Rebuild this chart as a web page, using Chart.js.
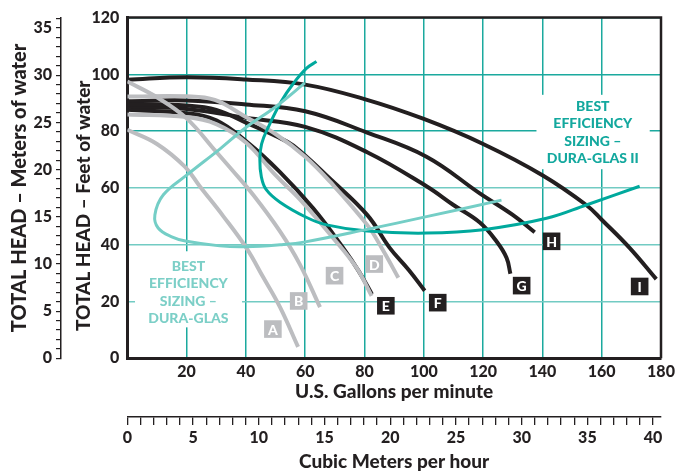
<!DOCTYPE html>
<html><head><meta charset="utf-8">
<script src="https://cdn.jsdelivr.net/npm/chart.js@4.4.1/dist/chart.umd.min.js"></script>
<style>html,body{margin:0;padding:0;background:#fff;}#wrap{width:686px;height:471px;}</style>
</head><body><div id="wrap"><canvas id="c" width="686" height="471"></canvas></div>
<script>
// ---- data: [U.S. gallons per minute, feet of head] ----
const curveA = [[0,80.5],[10,75.5],[19.4,67.5],[24.5,60.5],[32.4,50],[40.2,38.8],[45.8,28.6],[51.5,18],[57.6,4]];
const curveB = [[0,97.5],[10.4,91.7],[20,84.5],[30.1,72.6],[35.2,66.5],[42.5,57.5],[51.5,44.7],[58.2,33.1],[65,18]];
const curveC = [[0,85.9],[20,85],[30,82.5],[40,76],[50,64.5],[58.2,56],[69.4,42.4],[77.3,31.9],[82.4,22]];
const curveD = [[0,92.2],[20,92.3],[29.5,91],[40,85],[50,79],[60,71],[68.3,62.3],[80.9,47],[86,38.5],[91.4,28.4]];
const curveE = [[0,87.5],[20,86.3],[30,83.8],[40,76.5],[51.5,65.6],[62.7,52.8],[72.8,38.9],[78,30.8],[82.5,22.6]];
const curveF = [[0,89.6],[20,89],[30,87.5],[40,83],[50,78.3],[56,74.9],[68.3,63.3],[80.9,50.5],[88.5,38.9],[95,31],[100.3,23.8]];
const curveG = [[0,88.6],[20,87.8],[40,84.7],[60,81.5],[80.9,72.6],[100.9,60.6],[110,54],[118.9,47.8],[124.5,41.2],[127.9,35.4],[129.2,29.8]];
const curveH = [[0,90.5],[20,90.8],[40,89.4],[60,87],[80.9,79.5],[100.9,71],[119,58],[130,50.5],[137.4,44.4]];
const curveI = [[0,98.1],[20,99],[40,98.2],[60,96.4],[80,91.3],[100,84.3],[120,75.5],[140,64.5],[154.8,54],[160,48.8],[169.4,38.9],[178.4,27.9]];
const duraGlasII = [[63.8,104.5],[60.5,102.2],[56,96.8],[52,90.6],[47.5,81.3],[45.3,75.5],[44.7,70],[45.2,64],[46.8,59.5],[51.5,55],[60.5,49.6],[67.2,47],[80.9,44.8],[100.9,44.1],[120,45.3],[141.4,49.3],[154.8,54],[172.8,60.6]];
const duraGlas = [[59.9,97],[50.3,88.8],[40,81.3],[31.2,73.7],[20,64.5],[12.1,57.5],[9.3,50.5],[10.4,45.9],[15,42.8],[20,41.2],[31.2,39.6],[40,39.3],[51.5,40],[60,41],[80.9,45.4],[100.9,49.9],[126.2,55.7]];

// letter tags: [letter, gpm, ft]
const grayTags = [['A',49.1,10.3],['B',57.8,20.2],['C',69.9,29.1],['D',83.3,33.2]];
const blackTags = [['E',87.2,18.5],['F',104.7,19.6],['G',133,25.6],['H',143.1,41.2],['I',172.8,25.3]];

// text blocks
const duraGlasText = ['BEST','EFFICIENCY','SIZING –','DURA-GLAS'];
const duraGlasIIText = ['BEST','EFFICIENCY','SIZING –','DURA-GLAS II'];
// [centre gpm, first-line ft, box gpm0, box gpm1, box ft top, box ft bottom]
const duraGlasBox = [20.6, 32.5, 2.6, 38.7, 37.7, 10.9];
const duraGlasIIBox = [157, 88.8, 138, 176.2, 92.8, 66.6];

const gpmTicks = {min:0, max:180, step:20};
const ftTicks = {min:0, max:120, step:20};
const meterTicks = {min:0, max:36.1, last:36, labelEvery:5};
const cubicTicks = {min:0, max:40.6, last:40, labelEvery:5};

const FAM = 'Lato, "Open Sans", "DejaVu Sans", sans-serif';
const BLACK = '#231f20', GRAY = '#bcbdc0', TEAL = '#00a99d', LTEAL = '#74cec6';
const GRID_D = '#1ba99e', GRID_L = '#72cbc3';

function toXY(arr){ return arr.map(p => ({x:p[0], y:p[1]})); }
function ds(arr, color, w){ return {data:toXY(arr), showLine:true, borderColor:color, borderWidth:w, pointRadius:0, tension:0.4, fill:false, borderCapStyle:'butt'}; }
function unitTicks(last){ const t = []; for (let i = 0; i <= last; i++) t.push({value:i}); return t; }

// feet title sits a little below the axis middle in the original: pad its end with no-break spaces
const feetTitleFont = {family:FAM, size:19, weight:'900', lineHeight:1};
const meterTitleFont = {family:FAM, size:20, weight:'900', lineHeight:1};
function padEnd(text, font, px){
  const m = document.createElement('canvas').getContext('2d');
  m.font = font.weight + ' ' + font.size + 'px ' + font.family;
  const w = m.measureText('\u00a0').width || 5;
  return text + '\u00a0'.repeat(Math.max(0, Math.round(px / w)));
}
const feetTitle = padEnd('TOTAL HEAD – Feet of water', feetTitleFont, 38);

const datasets = [
  ds(duraGlas, LTEAL, 3),
  ds(duraGlasII, TEAL, 3),
  ds(curveA, GRAY, 4), ds(curveB, GRAY, 4), ds(curveC, GRAY, 4), ds(curveD, GRAY, 4),
  ds(curveE, BLACK, 4), ds(curveF, BLACK, 4), ds(curveG, BLACK, 4), ds(curveH, BLACK, 4), ds(curveI, BLACK, 4)
];

const textPlugin = {
  id:'texts',
  beforeDatasetsDraw(chart){
    const c = chart.ctx, X = chart.scales.x, Y = chart.scales.y;
    function block(lines, box, color){
      c.save();
      c.fillStyle = '#fff';
      const x0 = X.getPixelForValue(box[2]), x1 = X.getPixelForValue(box[3]);
      const y0 = Y.getPixelForValue(box[4]), y1 = Y.getPixelForValue(box[5]);
      c.fillRect(x0, y0, x1-x0, y1-y0);
      c.fillStyle = color;
      c.font = '900 14px ' + FAM;
      c.textAlign = 'center'; c.textBaseline = 'middle';
      const cx = X.getPixelForValue(box[0]);
      let cy = Y.getPixelForValue(box[1]);
      lines.forEach((t,i) => c.fillText(t, cx, cy + i*17.6));
      c.restore();
    }
    block(duraGlasText, duraGlasBox, '#7ccfc7');
    block(duraGlasIIText, duraGlasIIBox, '#13a89e');
    const a = chart.chartArea;
    c.save();
    c.strokeStyle = BLACK; c.lineWidth = 2.5;
    c.beginPath(); c.moveTo(a.left, a.top); c.lineTo(a.right, a.top); c.lineTo(a.right, a.bottom); c.stroke();
    c.restore();
  },
  afterDatasetsDraw(chart){
    const c = chart.ctx, X = chart.scales.x, Y = chart.scales.y;
    function tag(t, bg){
      const x = X.getPixelForValue(t[1]), y = Y.getPixelForValue(t[2]);
      c.fillStyle = bg; c.fillRect(x-8.8, y-8.8, 17.6, 17.6);
      c.fillStyle = '#fff'; c.font = '900 14px ' + FAM;
      c.textAlign = 'center'; c.textBaseline = 'middle';
      c.fillText(t[0], x, y+1);
    }
    c.save();
    grayTags.forEach(t => tag(t, GRAY));
    blackTags.forEach(t => tag(t, BLACK));
    c.restore();
  }
};

const tickFont = {family:FAM, size:16, weight:'900'};
const xTitleFont = {family:FAM, size:19, weight:'900', lineHeight:1};
new Chart(document.getElementById('c'), {
  type:'scatter',
  data:{datasets},
  options:{
    responsive:false, animation:false, devicePixelRatio:1,
    layout:{padding:{left:0, top:13, right:25, bottom:0}},
    plugins:{legend:{display:false}, tooltip:{enabled:false}},
    scales:{
      x:{type:'linear', position:'bottom', weight:0, min:gpmTicks.min, max:gpmTicks.max,
         ticks:{stepSize:gpmTicks.step, autoSkip:false, maxRotation:0, color:BLACK, font:tickFont, padding:4,
                callback:v => v === 0 ? '' : String(v)},
         grid:{color:GRID_D, lineWidth:1.5, drawTicks:false},
         border:{display:true, color:BLACK, width:3},
         title:{display:true, text:'U.S. Gallons per minute', color:BLACK, font:xTitleFont, padding:{top:0, bottom:15.5}},
         afterFit:s => { s.height = 58.7; }},
      x2:{type:'linear', position:'bottom', weight:1, min:cubicTicks.min, max:cubicTicks.max,
         afterBuildTicks:s => { s.ticks = unitTicks(cubicTicks.last); },
         ticks:{autoSkip:false, maxRotation:0, color:BLACK, font:tickFont, padding:3,
                callback:v => (v % cubicTicks.labelEvery === 0) ? String(v) : ''},
         grid:{drawOnChartArea:false, drawTicks:true, tickLength:8, color:BLACK, lineWidth:1.3},
         border:{display:true, color:BLACK, width:1.5},
         title:{display:true, text:'Cubic Meters per hour', color:BLACK, font:xTitleFont, padding:{top:0, bottom:0}},
         afterFit:s => { s.height = 54; }},
      y:{type:'linear', position:'left', weight:0, min:ftTicks.min, max:ftTicks.max,
         ticks:{stepSize:ftTicks.step, autoSkip:false, color:BLACK, font:tickFont, padding:8},
         grid:{color:ctx => (ctx.tick && ctx.tick.value <= 60) ? GRID_L : GRID_D, lineWidth:1.5, drawTicks:false},
         border:{display:true, color:BLACK, width:3},
         title:{display:true, text:feetTitle, color:BLACK, font:feetTitleFont, padding:{top:13.5, bottom:0}},
         afterFit:s => { s.width = 66.3; }},
      y2:{type:'linear', position:'left', weight:1, min:meterTicks.min, max:meterTicks.max,
         afterBuildTicks:s => { s.ticks = unitTicks(meterTicks.last); },
         ticks:{autoSkip:false, color:BLACK, font:tickFont, padding:4,
                callback:v => (v % meterTicks.labelEvery === 0) ? String(v) : ''},
         grid:{drawOnChartArea:false, drawTicks:true, tickLength:5, color:BLACK, lineWidth:1.2},
         border:{display:true, color:BLACK, width:1.5},
         title:{display:true, text:'TOTAL HEAD – Meters of water', color:BLACK, font:meterTitleFont, padding:{top:9.5, bottom:0}},
         afterFit:s => { s.width = 61; }}
    }
  },
  plugins:[textPlugin]
});
</script></body></html>
